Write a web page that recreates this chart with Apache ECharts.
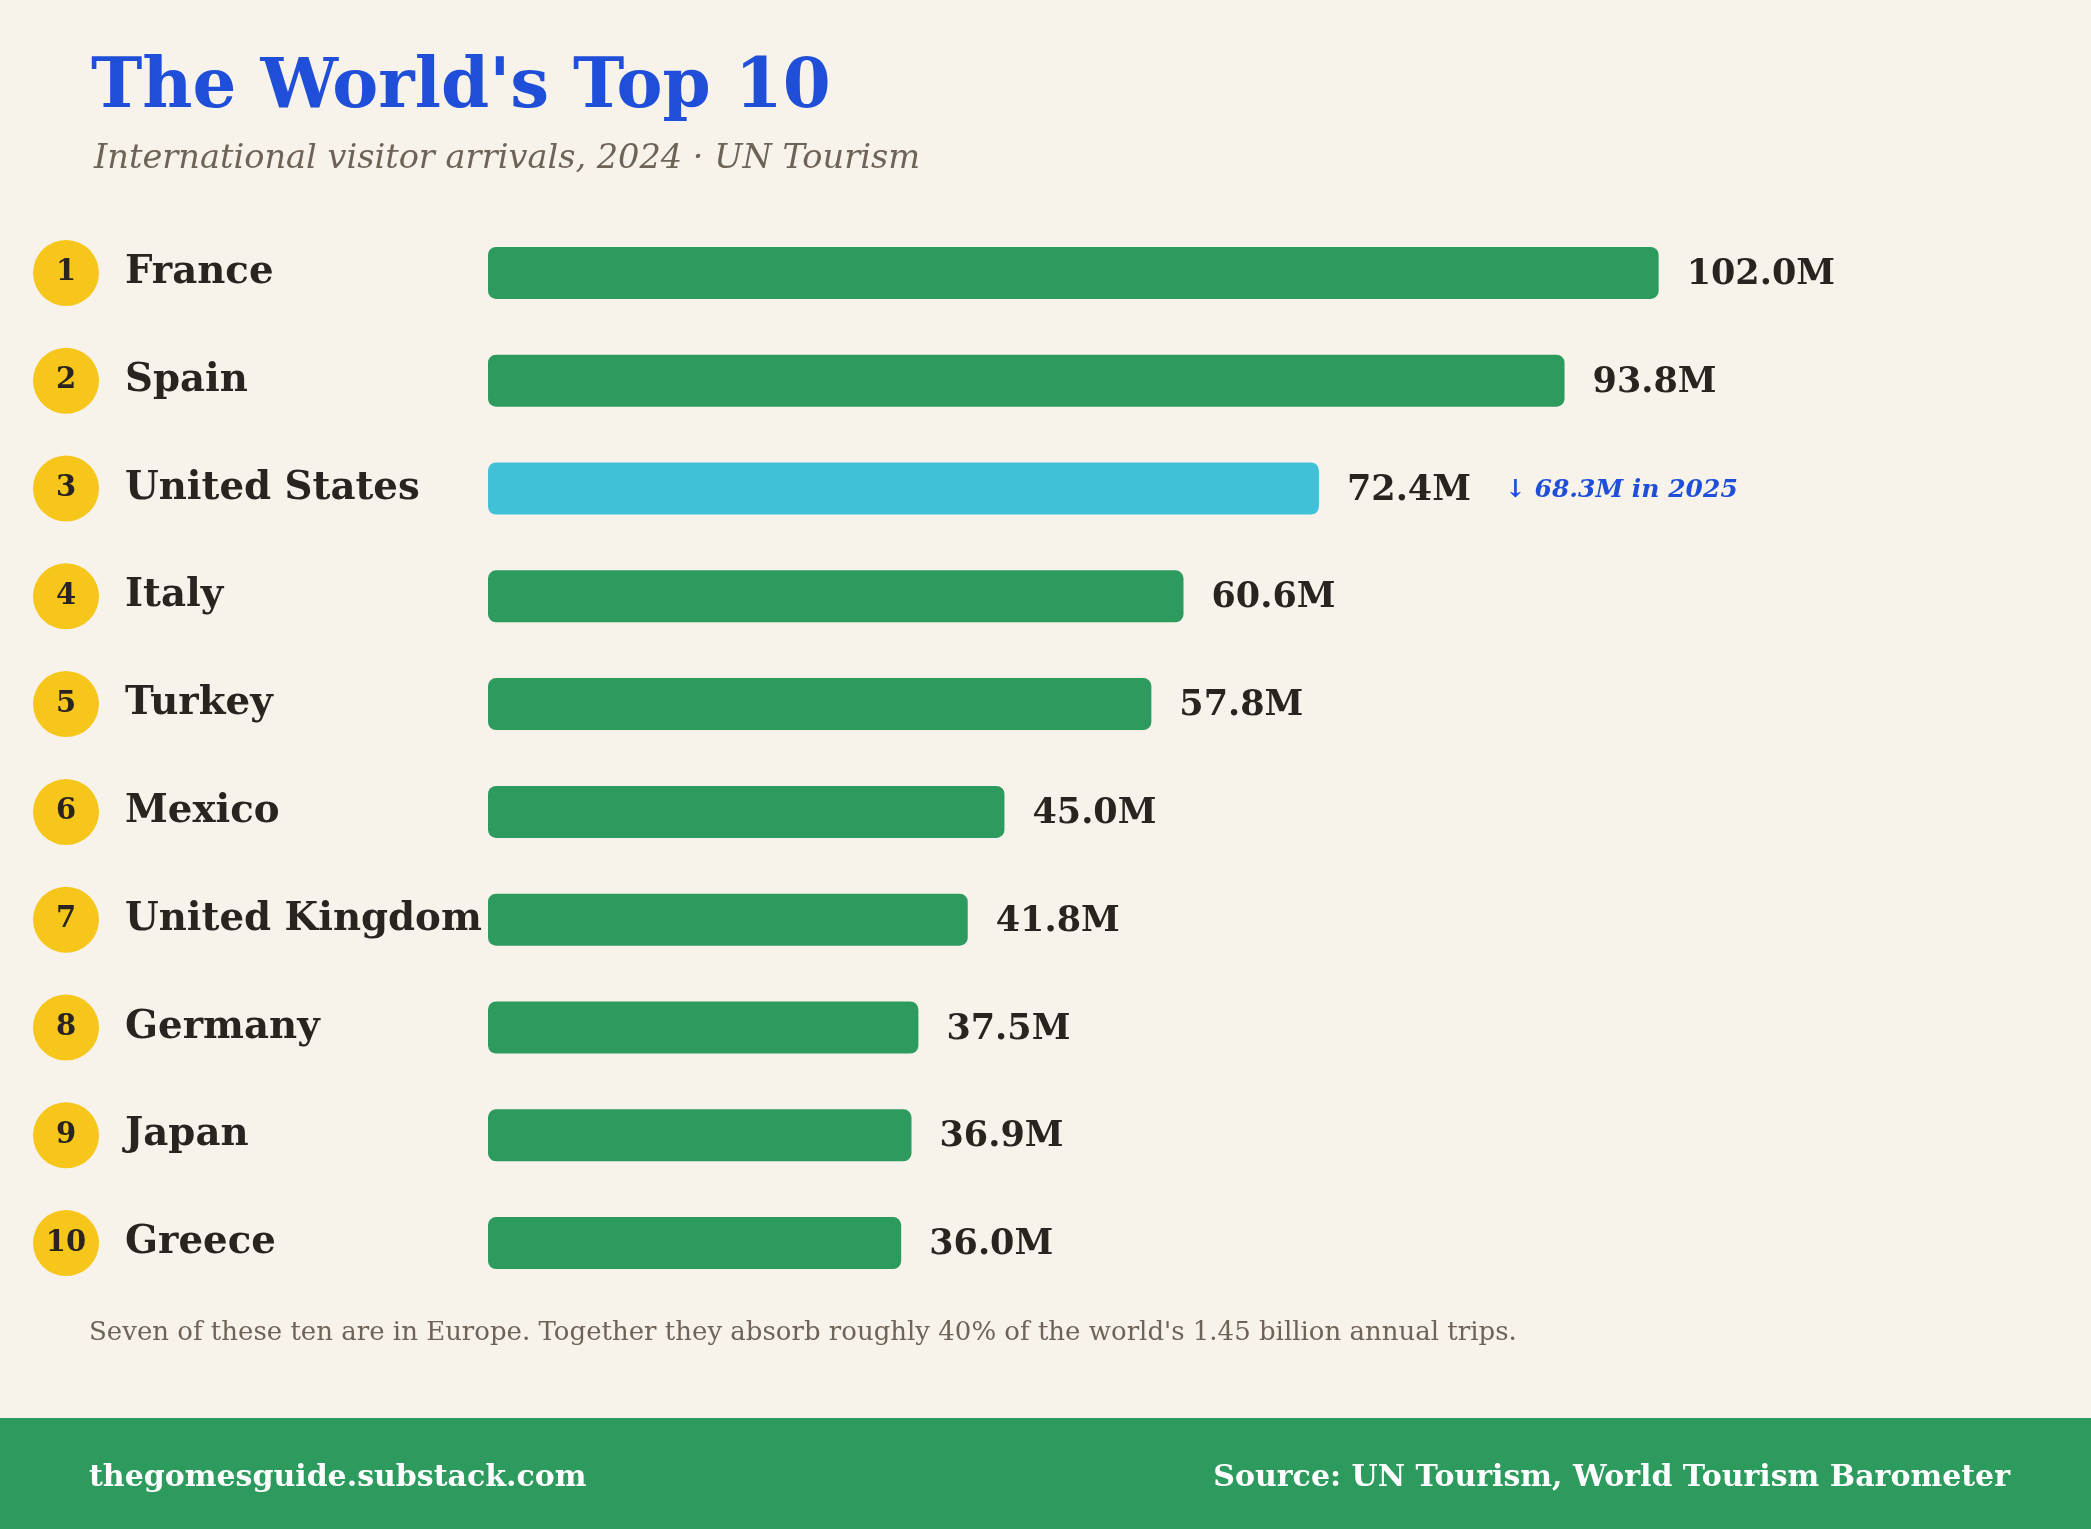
<!DOCTYPE html>
<html>
<head>
<meta charset="utf-8">
<title>The World's Top 10</title>
<script src="https://cdn.jsdelivr.net/npm/echarts@6/dist/echarts.min.js"></script>
<style>
  html, body { margin: 0; padding: 0; background: #f7f3eb; }
  #chart { width: 2091px; height: 1529px; }
</style>
</head>
<body>
<div id="chart"></div>
<script>
// data, top to bottom
const countries = ['France', 'Spain', 'United States', 'Italy', 'Turkey',
    'Mexico', 'United Kingdom', 'Germany', 'Japan', 'Greece'];
const arrivals = [102.0, 93.8, 72.4, 60.6, 57.8, 45.0, 41.8, 37.5, 36.9, 36.0]; // millions, 2024
const highlight = 'United States';
const highlightLater = 68.3; // millions, 2025

const SERIF = "'DejaVu Serif', Georgia, serif";
const GREEN = '#2e9b5e';
const CYAN = '#40c1d7';
const INK = '#2a2421';
const MUTED = '#6e6357';
const BLUE = '#1f4fd8';

const chart = echarts.init(document.getElementById('chart'));

const option = {
    backgroundColor: '#f7f3eb',
    animation: false,
    title: [
        {
            text: "The World's Top 10",
            left: 86,
            top: 50,
            textStyle: { color: BLUE, fontFamily: SERIF, fontSize: 69, fontWeight: 'bold' },
        },
        {
            text: 'International visitor arrivals, 2024 · UN Tourism',
            left: 89,
            top: 137,
            textStyle: { color: MUTED, fontFamily: SERIF, fontSize: 33.6, fontStyle: 'italic', fontWeight: 'normal' },
        },
    ],
    grid: { left: 488, right: 111, top: 219, bottom: 232 },
    xAxis: {
        type: 'value',
        min: 0,
        max: 130,
        show: false,
    },
    yAxis: {
        type: 'category',
        inverse: true,
        data: countries,
        axisLine: { show: false },
        axisTick: { show: false },
        splitLine: { show: false },
        axisLabel: {
            align: 'left',
            margin: 455,
            formatter: (name, i) => `{r|${i + 1}}{n|${name}}`,
            rich: {
                r: {
                    width: 66,
                    height: 66,
                    lineHeight: 66,
                    borderRadius: 33,
                    backgroundColor: '#f6c61b',
                    align: 'center',
                    color: INK,
                    fontFamily: SERIF,
                    fontSize: 29,
                    fontWeight: 'bold',
                },
                n: {
                    padding: [0, 0, 0, 26],
                    color: INK,
                    fontFamily: SERIF,
                    fontSize: 38.7,
                    fontWeight: 'bold',
                },
            },
        },
    },
    series: [
        {
            type: 'bar',
            barWidth: 52,
            data: arrivals.map((v, i) => ({
                value: v,
                itemStyle: { color: countries[i] === highlight ? CYAN : GREEN },
            })),
            itemStyle: { borderRadius: 8 },
            label: {
                show: true,
                position: 'right',
                distance: 28,
                offset: [0, 2],
                formatter: (p) => {
                    const txt = `{v|${p.value.toFixed(1)}M}`;
                    if (p.name === highlight) {
                        return txt + `{a|↓ ${highlightLater.toFixed(1)}M in 2025}`;
                    }
                    return txt;
                },
                rich: {
                    v: { color: INK, fontFamily: SERIF, fontSize: 35, fontWeight: 'bold' },
                    a: {
                        color: BLUE,
                        fontFamily: SERIF,
                        fontSize: 25,
                        fontWeight: 'bold',
                        fontStyle: 'italic',
                        padding: [0, 0, 0, 34],
                    },
                },
            },
        },
    ],
    graphic: [
        {
            type: 'text',
            left: 89,
            top: 1320,
            style: {
                text: "Seven of these ten are in Europe. Together they absorb roughly 40% of the world's 1.45 billion annual trips.",
                fill: MUTED,
                font: `26px ${SERIF}`,
            },
        },
        {
            type: 'rect',
            left: 0,
            top: 1418,
            shape: { width: 2091, height: 111 },
            style: { fill: GREEN },
        },
        {
            type: 'text',
            left: 89,
            top: 1463,
            style: {
                text: 'thegomesguide.substack.com',
                fill: '#ffffff',
                font: `bold 30px ${SERIF}`,
            },
        },
        {
            type: 'text',
            right: 81,
            top: 1463,
            style: {
                text: 'Source: UN Tourism, World Tourism Barometer',
                fill: '#ffffff',
                font: `bold 30px ${SERIF}`,
            },
        },
    ],
};

chart.setOption(option);
window.addEventListener('resize', () => chart.resize());
</script>
</body>
</html>
